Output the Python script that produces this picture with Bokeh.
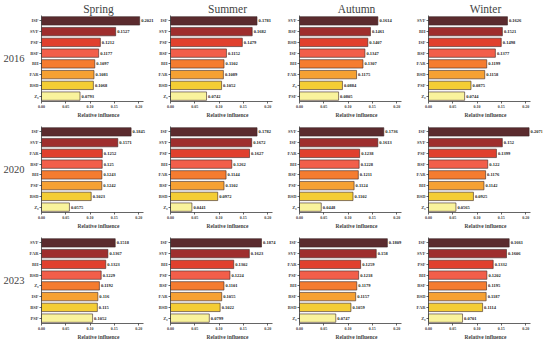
from bokeh.plotting import figure
from bokeh.layouts import row, column
from bokeh.models import ColumnDataSource, FixedTicker, NumeralTickFormatter, LabelSet, Range1d, FactorRange
from bokeh.core.properties import value
from bokeh.embed import file_html
from bokeh.resources import INLINE

seasons = ["Spring", "Summer", "Autumn", "Winter"]
years = ["2016", "2020", "2023"]
x_ticks = [0.0, 0.05, 0.10, 0.15, 0.20]
palette = ["#5b2b2e", "#9e2e2e", "#e0402e", "#f25e4a", "#f57c30", "#f6a133", "#f4cd35", "#f9f39c"]

cats_2016_spring = ["ISF", "SVF", "PSF", "BSF", "BH", "FAR", "BSD", "Z₀"]
vals_2016_spring = [0.2021, 0.1527, 0.1212, 0.1177, 0.1097, 0.1081, 0.1068, 0.0793]
cats_2016_summer = ["ISF", "SVF", "PSF", "BSF", "BH", "FAR", "BSD", "Z₀"]
vals_2016_summer = [0.1781, 0.1682, 0.1479, 0.1152, 0.1102, 0.1089, 0.1052, 0.0742]
cats_2016_autumn = ["SVF", "BSF", "BSD", "ISF", "BH", "FAR", "Z₀", "PSF"]
vals_2016_autumn = [0.1614, 0.1461, 0.1407, 0.1347, 0.1307, 0.1175, 0.0884, 0.0805]
cats_2016_winter = ["SVF", "BH", "ISF", "BSF", "FAR", "BSD", "PSF", "Z₀"]
vals_2016_winter = [0.1626, 0.1521, 0.1498, 0.1377, 0.1199, 0.1158, 0.0875, 0.0744]

cats_2020_spring = ["ISF", "SVF", "FAR", "BSF", "BH", "PSF", "BSD", "Z₀"]
vals_2020_spring = [0.1845, 0.1571, 0.1252, 0.1250, 0.1243, 0.1242, 0.1023, 0.0575]
cats_2020_summer = ["ISF", "SVF", "PSF", "BH", "FAR", "BSF", "BSD", "Z₀"]
vals_2020_summer = [0.1782, 0.1672, 0.1627, 0.1262, 0.1144, 0.1102, 0.0972, 0.0441]
cats_2020_autumn = ["SVF", "ISF", "FAR", "BH", "BSF", "PSF", "BSD", "Z₀"]
vals_2020_autumn = [0.1736, 0.1613, 0.1238, 0.1228, 0.1211, 0.1124, 0.1102, 0.0448]
cats_2020_winter = ["ISF", "SVF", "PSF", "BSF", "FAR", "BH", "BSD", "Z₀"]
vals_2020_winter = [0.2071, 0.1520, 0.1399, 0.1220, 0.1176, 0.1142, 0.0925, 0.0565]

cats_2023_spring = ["SVF", "FAR", "BH", "BSD", "Z₀", "ISF", "BSF", "PSF"]
vals_2023_spring = [0.1518, 0.1367, 0.1323, 0.1229, 0.1192, 0.1160, 0.1150, 0.1052]
cats_2023_summer = ["ISF", "SVF", "BH", "PSF", "BSF", "FAR", "BSD", "Z₀"]
vals_2023_summer = [0.1874, 0.1623, 0.1302, 0.1224, 0.1101, 0.1055, 0.1022, 0.0799]
cats_2023_autumn = ["ISF", "SVF", "FAR", "PSF", "BH", "BSF", "BSD", "Z₀"]
vals_2023_autumn = [0.1809, 0.1580, 0.1259, 0.1218, 0.1179, 0.1157, 0.1059, 0.0747]
cats_2023_winter = ["ISF", "SVF", "PSF", "BH", "BSF", "BSD", "FAR", "Z₀"]
vals_2023_winter = [0.1661, 0.1606, 0.1332, 0.1202, 0.1195, 0.1187, 0.1114, 0.0701]

panels = [
    [(cats_2016_spring, vals_2016_spring), (cats_2016_summer, vals_2016_summer),
     (cats_2016_autumn, vals_2016_autumn), (cats_2016_winter, vals_2016_winter)],
    [(cats_2020_spring, vals_2020_spring), (cats_2020_summer, vals_2020_summer),
     (cats_2020_autumn, vals_2020_autumn), (cats_2020_winter, vals_2020_winter)],
    [(cats_2023_spring, vals_2023_spring), (cats_2023_summer, vals_2023_summer),
     (cats_2023_autumn, vals_2023_autumn), (cats_2023_winter, vals_2023_winter)],
]

SERIF = "Liberation Serif"
FRAME_W = 114
X_END = 0.2347           # range wide enough for value labels
AXIS_END = 0.21          # visible axis extent
left_b = [34, 14, 14, 14]
right_b = [0, 0, 0, 2]


def fmt(v):
    return f"{v:.4f}".rstrip("0")


def make_panel(r, c, cats, vals):
    p = figure(frame_width=FRAME_W, frame_height=86,
               y_range=FactorRange(*cats[::-1]), x_range=Range1d(0, X_END),
               output_backend="svg", toolbar_location=None,
               min_border_left=left_b[c], min_border_right=right_b[c],
               min_border_top=(0 if r == 0 else 6), min_border_bottom=0)
    if r == 0:
        p.title.text = seasons[c]
        p.title.align = "center"
        p.title.offset = -6
        p.title.text_font = SERIF
        p.title.text_font_size = "11.5px"
        p.title.text_font_style = "normal"
        p.title.standoff = 1
    src = ColumnDataSource(dict(cat=cats, val=vals, color=palette,
                                lbl=[fmt(v) for v in vals]))
    p.hbar(y="cat", left=0, right="val", height=0.78, fill_color="color",
           line_color="#3b2525", line_width=0.6, source=src)
    labels = LabelSet(x="val", y="cat", text="lbl", x_offset=1.5, source=src,
                      text_baseline="middle", text_font_size="4.5px",
                      text_font=value(SERIF), text_font_style="bold",
                      text_color="#222222")
    p.add_layout(labels)
    p.grid.visible = False
    p.outline_line_color = None
    p.xaxis.bounds = (0, AXIS_END)
    p.xaxis.ticker = FixedTicker(ticks=x_ticks)
    p.xaxis.formatter = NumeralTickFormatter(format="0.00")
    p.xaxis.axis_label = "Relative influence"
    p.xaxis.axis_label_text_font = SERIF
    p.xaxis.axis_label_text_font_size = "5.5px"
    p.xaxis.axis_label_text_font_style = "bold"
    p.xaxis.axis_label_standoff = 1
    p.xaxis.major_label_text_font = SERIF
    p.xaxis.major_label_text_font_size = "4px"
    p.xaxis.major_label_text_font_style = "bold"
    p.xaxis.major_label_standoff = 1
    for ax in (p.xaxis, p.yaxis):
        ax.major_tick_out = 2
        ax.major_tick_in = 0
        ax.minor_tick_line_color = None
        ax.axis_line_color = "#222222"
        ax.major_tick_line_color = "#222222"
        ax.axis_line_width = 0.7
        ax.major_tick_line_width = 0.7
    p.yaxis.major_label_text_font = SERIF
    p.yaxis.major_label_text_font_size = "4.5px"
    p.yaxis.major_label_text_font_style = "bold"
    p.yaxis.major_label_standoff = 1
    if c == 0:
        p.yaxis.axis_label = years[r]
        p.yaxis.axis_label_orientation = "horizontal"
        p.yaxis.axis_label_text_font = SERIF
        p.yaxis.axis_label_text_font_size = "10.5px"
        p.yaxis.axis_label_text_font_style = "normal"
        p.yaxis.axis_label_standoff = 2
    return p


rows = []
for r in range(3):
    figs = [make_panel(r, c, *panels[r][c]) for c in range(4)]
    rows.append(row(*figs))
layout = column(*rows)

open("out.html", "w").write(file_html(layout, INLINE))
